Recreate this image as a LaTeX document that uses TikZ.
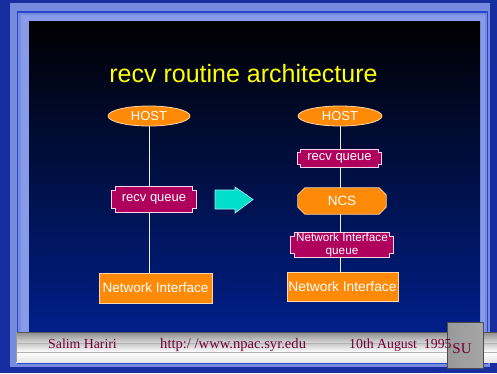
\documentclass[tikz,border=0pt]{standalone}
\usepackage{fontspec}
\setmainfont{Liberation Sans}
\newfontfamily\serifft{Liberation Serif}
\usetikzlibrary{shapes.geometric}
\pgfdeclarelayer{back}
\pgfdeclarelayer{bg}
\pgfsetlayers{back,bg,main}
\definecolor{outerblue}{RGB}{24,46,160}
\definecolor{framelight}{RGB}{118,138,222}
\definecolor{framelighter}{RGB}{135,155,232}
\definecolor{frameline}{RGB}{40,70,205}
\definecolor{panelbot}{RGB}{0,34,150}
\definecolor{panelmid}{RGB}{0,10,62}
\definecolor{orangec}{RGB}{255,138,8}
\definecolor{orangeedge}{RGB}{255,215,170}
\definecolor{magc}{RGB}{176,0,94}
\definecolor{magedge}{RGB}{250,210,235}
\definecolor{cyanc}{RGB}{0,222,204}
\definecolor{cyanedge}{RGB}{170,235,240}
\definecolor{maroon}{RGB}{112,0,52}
\definecolor{titley}{RGB}{255,255,0}
\newcommand{\notchshape}[2]{%
\begin{pgfonlayer}{bg}
\draw[qshape] ([xshift=#2]#1.north west) -- ([xshift=-#2]#1.north east)
 -- ([xshift=-#2,yshift=-#2]#1.north east) -- ([yshift=-#2]#1.north east)
 -- ([yshift=#2]#1.south east) -- ([xshift=-#2,yshift=#2]#1.south east)
 -- ([xshift=-#2]#1.south east) -- ([xshift=#2]#1.south west)
 -- ([xshift=#2,yshift=#2]#1.south west) -- ([yshift=#2]#1.south west)
 -- ([yshift=-#2]#1.north west) -- ([xshift=#2,yshift=-#2]#1.north west) -- cycle;
\end{pgfonlayer}}
\newcommand{\octshape}[2]{%
\begin{pgfonlayer}{bg}
\draw[octstyle] ([xshift=#2]#1.north west) -- ([xshift=-#2]#1.north east)
 -- ([yshift=-#2]#1.north east) -- ([yshift=#2]#1.south east)
 -- ([xshift=-#2]#1.south east) -- ([xshift=#2]#1.south west)
 -- ([yshift=#2]#1.south west) -- ([yshift=-#2]#1.north west) -- cycle;
\end{pgfonlayer}}
\tikzset{
 hoststyle/.style={ellipse, fill=orangec, draw=orangeedge, line width=0.8pt, text=white, inner sep=0pt, minimum width=82pt, minimum height=20pt, font=\fontsize{13}{13}\selectfont},
 qbox/.style={rectangle, inner sep=0pt, text=white, font=\fontsize{13}{13}\selectfont},
 qshape/.style={fill=magc, draw=magedge, line width=0.7pt},
 octstyle/.style={fill=orangec, draw=orangeedge, line width=0.8pt},
 nibox/.style={rectangle, fill=orangec, draw=orangeedge, line width=0.8pt, inner sep=0pt, text=white, font=\fontsize{13.5}{13.5}\selectfont},
 link/.style={draw=white!85!gray, line width=0.8pt},
 foot/.style={text=maroon, font=\serifft\fontsize{13.8}{14}\selectfont, anchor=base west, inner sep=0pt},
}
\begin{document}
\begin{tikzpicture}[x=1pt,y=-1pt]
\useasboundingbox (0,0) rectangle (497,373);
\begin{pgfonlayer}{back}
\fill[outerblue] (0,0) rectangle (497,373);
\fill[framelight] (10,3) rectangle (490,367);
\fill[framelighter] (21,15) rectangle (485,362);
\draw[frameline, line width=1.6pt] (17.5,12) rectangle (487.5,363);
\shade[top color=black, middle color=panelmid, bottom color=panelbot] (29,21) rectangle (480,362);
% footer bar
\shade[top color=black!45, bottom color=black!15] (16,332) rectangle (497,343);
\shade[top color=black!22, bottom color=white] (16,343) rectangle (497,352);
\shade[top color=white, bottom color=black!10] (16,352) rectangle (497,362);
\draw[black!65, line width=0.8pt] (16,332) -- (497,332);
\draw[black!30, line width=0.6pt] (16,343) -- (497,343);
\draw[black!30, line width=0.6pt] (16,352) -- (497,352);
\draw[black!40, line width=0.5pt] (16,332) -- (16,362);
% SU box
\shade[left color=black!40, middle color=black!8, right color=black!35] (447,322) rectangle (483,368);
\draw[black!70, line width=0.8pt] (447,322) rectangle (483,368);
\end{pgfonlayer}

\node[text=titley, font=\fontsize{25}{25}\selectfont, anchor=base] (title) at (243.5,82) {recv routine architecture};

% left column
\node[hoststyle] (h1) at (149,116) {HOST};
\node[qbox, minimum width=84pt, minimum height=25pt] (q1) at (154,199.5) {recv queue};
\notchshape{q1}{3.5pt}
\node[nibox, minimum width=113pt, minimum height=30pt] (ni1) at (155.5,288) {Network Interface};
\draw[link] (h1.south) -- (h1.south |- q1.north);
\draw[link] (h1.south |- q1.south) -- (h1.south |- ni1.north);

% arrow
\draw[fill=cyanc, draw=cyanedge, line width=0.7pt] (215,190) -- (235,190) -- (235,187) -- (253,199.5) -- (235,213) -- (235,209) -- (215,209) -- cycle;

% right column
\node[hoststyle, minimum width=84pt] (h2) at (340,116) {HOST};
\node[qbox, minimum width=83pt, minimum height=17pt] (q2) at (339.5,158.5) {recv queue};
\notchshape{q2}{3pt}
\node[qbox, minimum width=88pt, minimum height=26pt, font=\fontsize{13.5}{13.5}\selectfont] (ncs) at (342,201) {NCS};
\octshape{ncs}{7pt}
\node[qbox, minimum width=102pt, minimum height=24pt, align=center, font=\fontsize{11.7}{12.5}\selectfont] (niq) at (342,245) {Network Interface\\queue};
\notchshape{niq}{3.5pt}
\node[nibox, minimum width=111pt, minimum height=29pt, font=\fontsize{13.8}{13.8}\selectfont] (ni2) at (342.5,286.5) {Network Interface};
\draw[link] (h2.south) -- (h2.south |- q2.north);
\draw[link] (h2.south |- q2.south) -- (h2.south |- ncs.north);
\draw[link] (h2.south |- ncs.south) -- (h2.south |- niq.north);
\draw[link] (h2.south |- niq.south) -- (h2.south |- ni2.north);

% footer texts
\node[foot] (f1) at (48,348) {Salim Hariri};
\node[foot, font=\serifft\fontsize{14.6}{14.6}\selectfont] (f2) at (160,348) {http:/ /www.npac.syr.edu};
\node[foot] (f3) at (349,348) {10th August\ \ 1995};
\node[text=maroon, font=\serifft\fontsize{15}{15}\selectfont, anchor=base] (su) at (462,353.5) {SU};
\end{tikzpicture}
\end{document}
